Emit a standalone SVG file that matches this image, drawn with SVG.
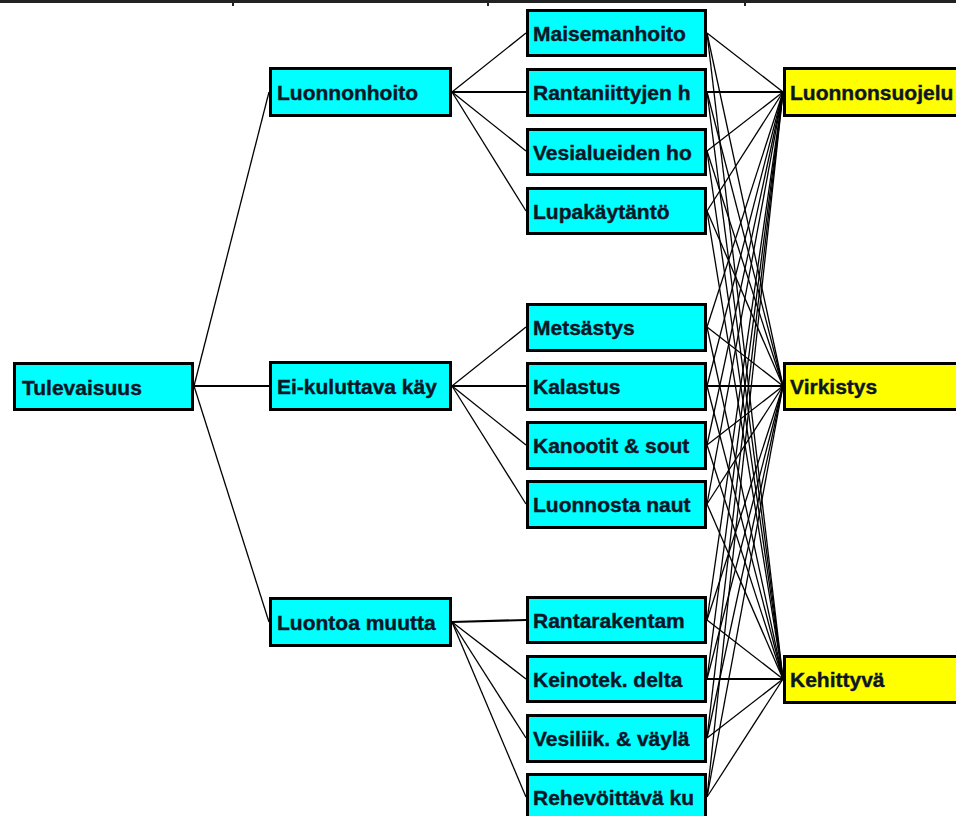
<svg xmlns="http://www.w3.org/2000/svg" width="956" height="816" viewBox="0 0 956 816">
<style>
.n rect{stroke:#000;stroke-width:3}
.c rect{fill:#00ffff}
.y rect{fill:#ffff00}
.n text{font-family:"Liberation Sans",Arial,sans-serif;font-weight:bold;font-size:21px;fill:#0c1626;stroke:#0c1626;stroke-width:0.4}
#connectors line{stroke:#000;stroke-width:1.3}
#connectors line.h{stroke-width:2.2}
</style>
<rect x="0" y="0" width="956" height="816" fill="#fff"/>
<g id="topbar">
<rect x="0" y="0" width="956" height="3" fill="#222"/>
<line x1="233" y1="0" x2="233" y2="6" stroke="#222" stroke-width="2"/>
<line x1="488" y1="0" x2="488" y2="6" stroke="#222" stroke-width="2"/>
<line x1="745" y1="0" x2="745" y2="6" stroke="#222" stroke-width="2"/>
</g>
<g id="connectors">
<line x1="194" y1="386" x2="269" y2="92"/>
<line class="h" x1="194" y1="386" x2="269" y2="386"/>
<line x1="194" y1="386" x2="269" y2="622"/>

<line x1="452" y1="92" x2="526" y2="33"/>
<line class="h" x1="452" y1="92" x2="526" y2="92"/>
<line x1="452" y1="92" x2="526" y2="151"/>
<line x1="452" y1="92" x2="526" y2="211"/>

<line x1="452" y1="386" x2="526" y2="327"/>
<line class="h" x1="452" y1="386" x2="526" y2="386"/>
<line x1="452" y1="386" x2="526" y2="445"/>
<line x1="452" y1="386" x2="526" y2="504"/>

<line class="h" x1="452" y1="622" x2="526" y2="620"/>
<line x1="452" y1="622" x2="526" y2="679"/>
<line x1="452" y1="622" x2="526" y2="738"/>
<line x1="452" y1="622" x2="526" y2="797"/>

<line x1="707" y1="33" x2="783" y2="92"/>
<line x1="707" y1="33" x2="783" y2="386"/>
<line x1="707" y1="33" x2="783" y2="679"/>
<line class="h" x1="707" y1="92" x2="783" y2="92"/>
<line x1="707" y1="92" x2="783" y2="386"/>
<line x1="707" y1="92" x2="783" y2="679"/>
<line x1="707" y1="151" x2="783" y2="92"/>
<line x1="707" y1="151" x2="783" y2="386"/>
<line x1="707" y1="151" x2="783" y2="679"/>
<line x1="707" y1="211" x2="783" y2="92"/>
<line x1="707" y1="211" x2="783" y2="386"/>
<line x1="707" y1="211" x2="783" y2="679"/>

<line x1="707" y1="327" x2="783" y2="92"/>
<line x1="707" y1="327" x2="783" y2="386"/>
<line x1="707" y1="327" x2="783" y2="679"/>
<line x1="707" y1="386" x2="783" y2="92"/>
<line class="h" x1="707" y1="386" x2="783" y2="386"/>
<line x1="707" y1="386" x2="783" y2="679"/>
<line x1="707" y1="445" x2="783" y2="92"/>
<line x1="707" y1="445" x2="783" y2="386"/>
<line x1="707" y1="445" x2="783" y2="679"/>
<line x1="707" y1="504" x2="783" y2="92"/>
<line x1="707" y1="504" x2="783" y2="386"/>
<line x1="707" y1="504" x2="783" y2="679"/>

<line x1="707" y1="620" x2="783" y2="92"/>
<line x1="707" y1="620" x2="783" y2="386"/>
<line x1="707" y1="620" x2="783" y2="679"/>
<line x1="707" y1="679" x2="783" y2="92"/>
<line x1="707" y1="679" x2="783" y2="386"/>
<line class="h" x1="707" y1="679" x2="783" y2="679"/>
<line x1="707" y1="738" x2="783" y2="92"/>
<line x1="707" y1="738" x2="783" y2="386"/>
<line x1="707" y1="738" x2="783" y2="679"/>
<line x1="707" y1="797" x2="783" y2="92"/>
<line x1="707" y1="797" x2="783" y2="386"/>
<line x1="707" y1="797" x2="783" y2="679"/>
</g>

<g id="n-tulevaisuus" class="n c"><rect x="14.5" y="363.5" width="178" height="46"/><text x="22" y="395">Tulevaisuus</text></g>

<g id="n-luonnonhoito" class="n c"><rect x="270.5" y="68.5" width="180" height="47"/><text x="277" y="100">Luonnonhoito</text></g>
<g id="n-eikuluttava" class="n c"><rect x="270.5" y="362.5" width="180" height="47"/><text x="277" y="394">Ei-kuluttava käy</text></g>
<g id="n-luontoamuutta" class="n c"><rect x="270.5" y="598.5" width="180" height="47"/><text x="277" y="630">Luontoa muutta</text></g>

<g id="n-maisemanhoito" class="n c"><rect x="527.5" y="10.5" width="178" height="45"/><text x="533" y="41">Maisemanhoito</text></g>
<g id="n-rantaniittyjen" class="n c"><rect x="527.5" y="69.5" width="178" height="46"/><text x="533" y="100">Rantaniittyjen h</text></g>
<g id="n-vesialueiden" class="n c"><rect x="527.5" y="129.5" width="178" height="45"/><text x="533" y="160">Vesialueiden ho</text></g>
<g id="n-lupakaytanto" class="n c"><rect x="527.5" y="188.5" width="178" height="45"/><text x="533" y="219">Lupakäytäntö</text></g>

<g id="n-metsastys" class="n c"><rect x="527.5" y="304.5" width="178" height="46"/><text x="533" y="335">Metsästys</text></g>
<g id="n-kalastus" class="n c"><rect x="527.5" y="363.5" width="178" height="46"/><text x="533" y="394">Kalastus</text></g>
<g id="n-kanootit" class="n c"><rect x="527.5" y="422.5" width="178" height="46"/><text x="533" y="453">Kanootit &amp; sout</text></g>
<g id="n-luonnosta" class="n c"><rect x="527.5" y="481.5" width="178" height="46"/><text x="533" y="512">Luonnosta naut</text></g>

<g id="n-rantarakentam" class="n c"><rect x="527.5" y="597.5" width="178" height="45"/><text x="533" y="628">Rantarakentam</text></g>
<g id="n-keinotek" class="n c"><rect x="527.5" y="656.5" width="178" height="45"/><text x="533" y="687">Keinotek. delta</text></g>
<g id="n-vesiliik" class="n c"><rect x="527.5" y="715.5" width="178" height="46"/><text x="533" y="746">Vesiliik. &amp; väylä</text></g>
<g id="n-rehevoittava" class="n c"><rect x="527.5" y="774.5" width="178" height="46"/><text x="533" y="805">Rehevöittävä ku</text></g>

<g id="n-luonnonsuojelu" class="n y"><rect x="784.5" y="68.5" width="190" height="47"/><text x="790" y="100">Luonnonsuojelu</text></g>
<g id="n-virkistys" class="n y"><rect x="784.5" y="363.5" width="190" height="46"/><text x="790" y="394">Virkistys</text></g>
<g id="n-kehittyva" class="n y"><rect x="784.5" y="656.5" width="190" height="46"/><text x="790" y="687">Kehittyvä</text></g>
</svg>
